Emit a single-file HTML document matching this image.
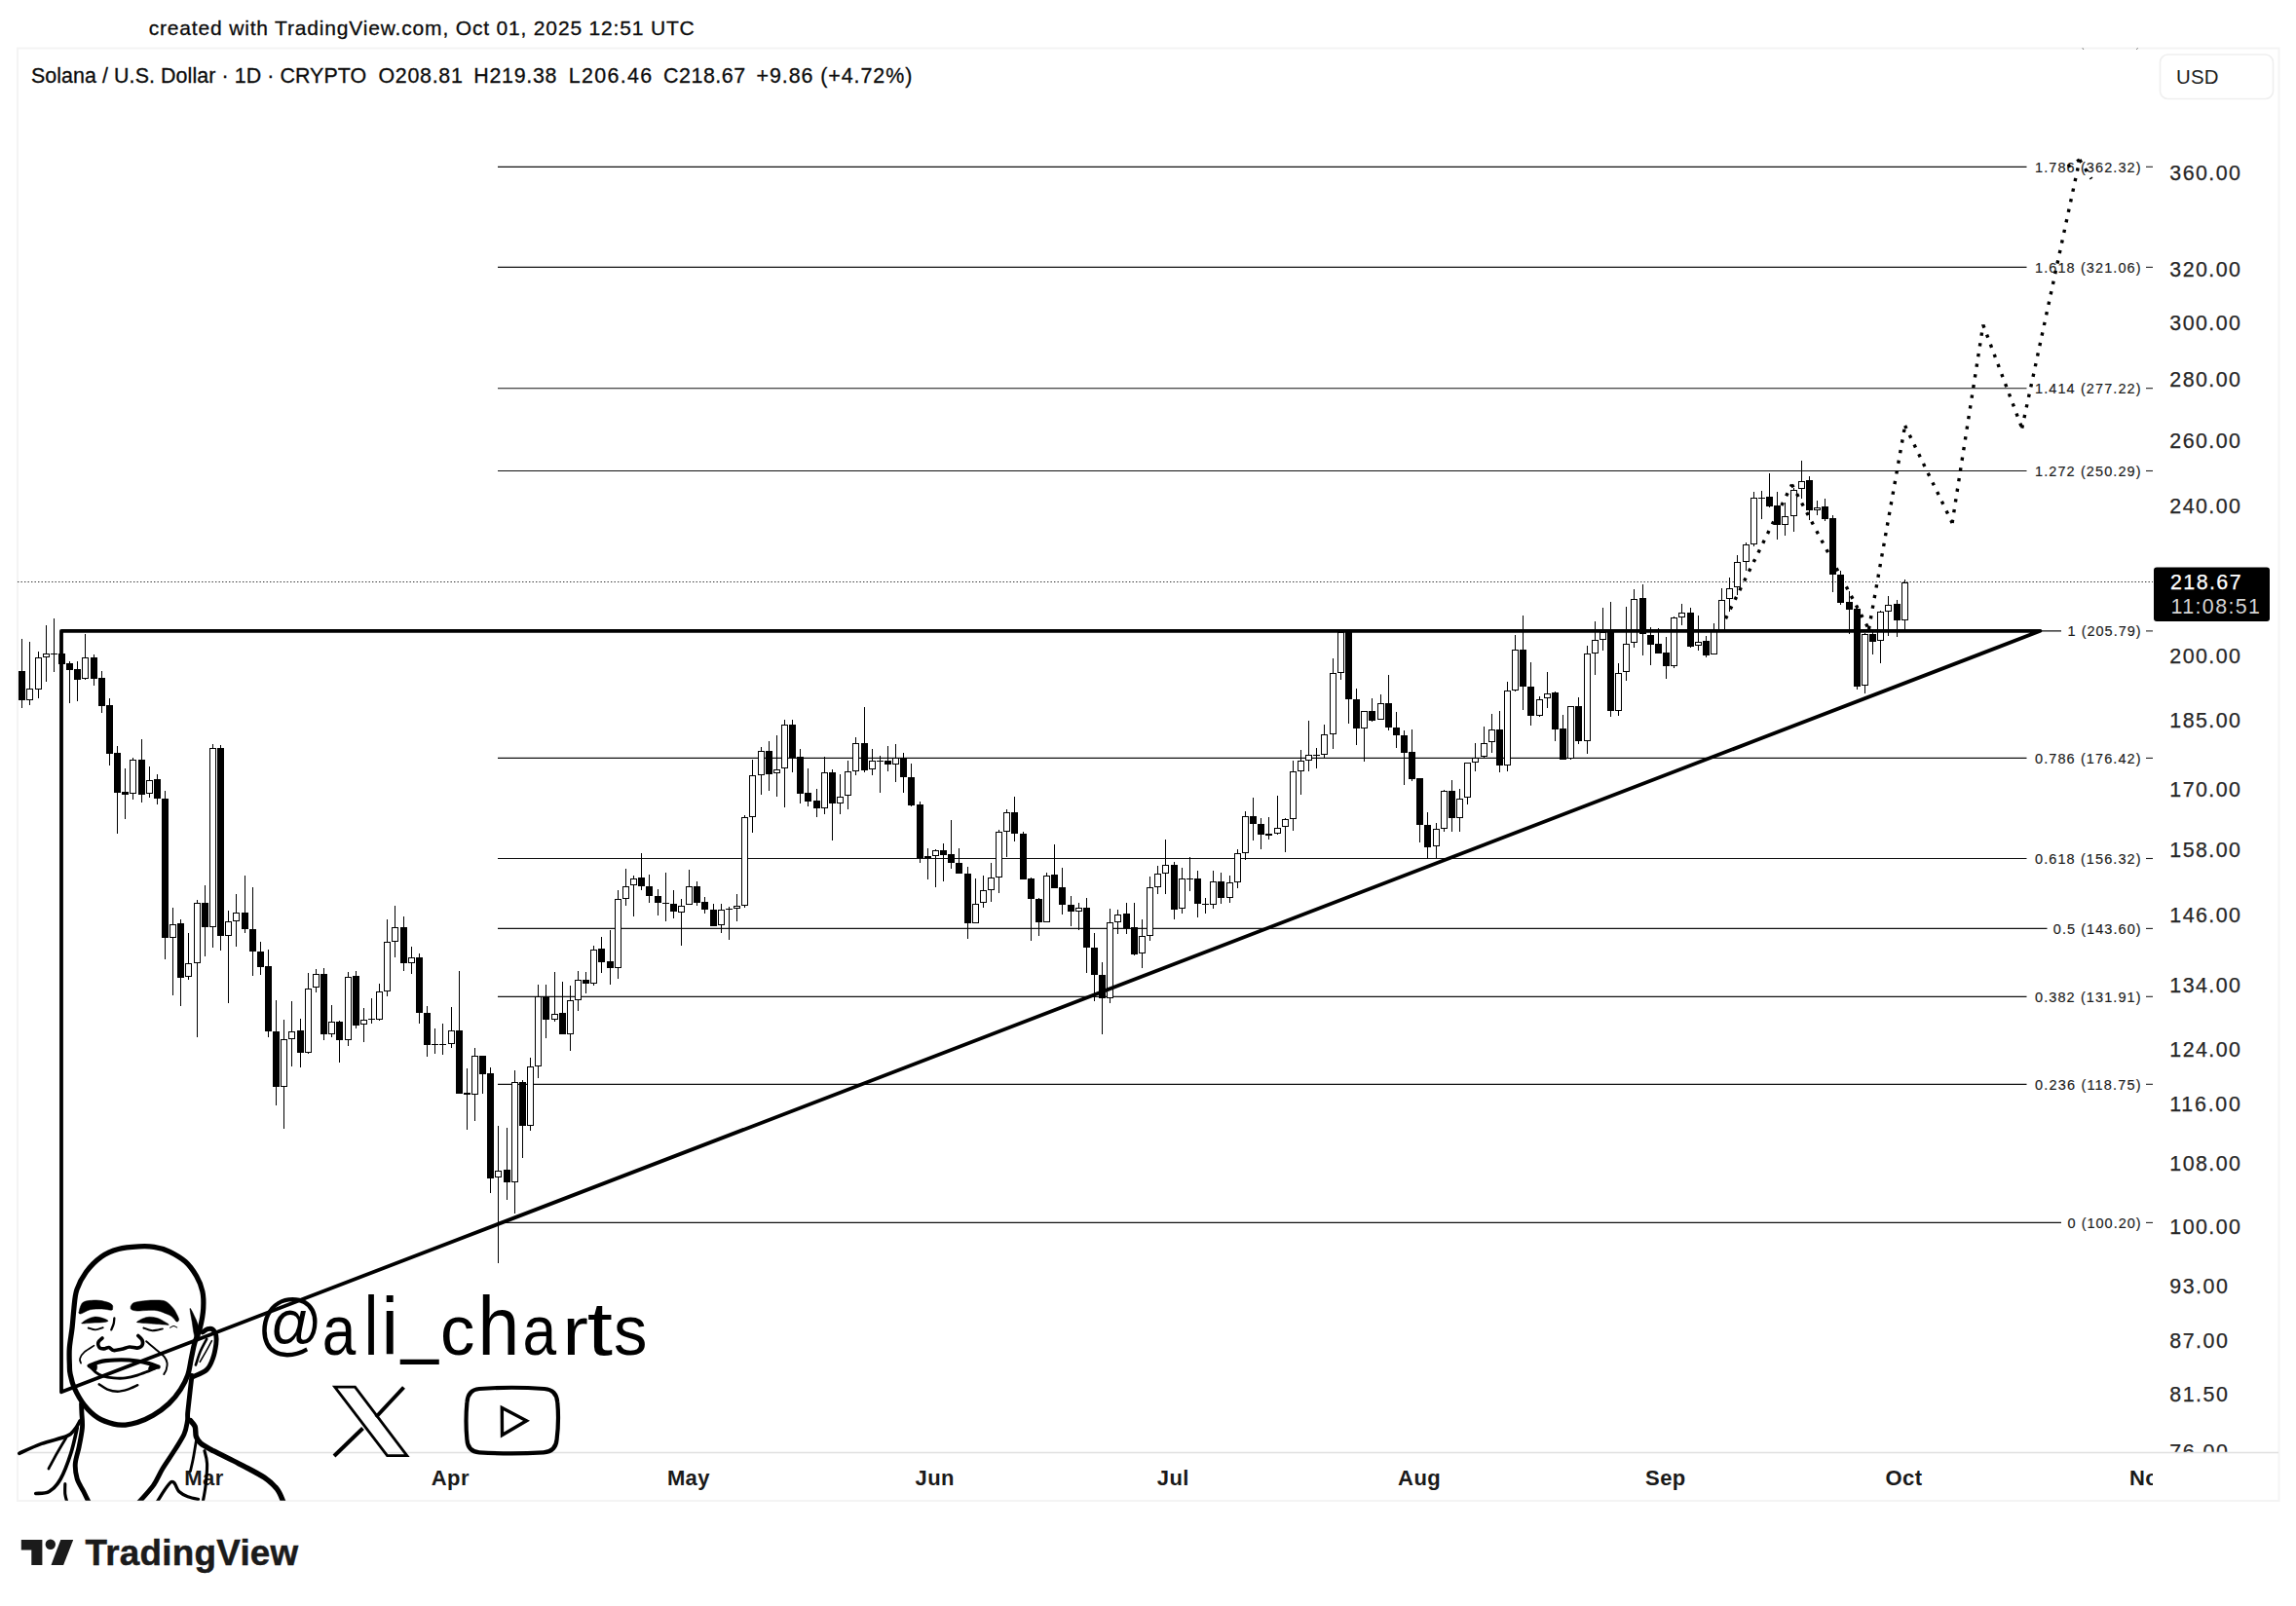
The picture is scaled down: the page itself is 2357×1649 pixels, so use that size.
<!DOCTYPE html><html><head><meta charset="utf-8"><title>SOLUSD chart</title><style>html,body{margin:0;padding:0;background:#fff}body{width:2357px;height:1649px;overflow:hidden;position:relative}svg{display:block;position:absolute;left:0;top:0}text{font-family:"Liberation Sans", Arial, sans-serif}</style></head><body>
<svg width="2357" height="1649" viewBox="0 0 2357 1649">
<rect width="2357" height="1649" fill="#fff"/>
<rect x="18" y="49.5" width="2321.5" height="1491.5" fill="none" stroke="#f4f4f4" stroke-width="2"/>
<line x1="18" y1="1491.5" x2="2339" y2="1491.5" stroke="#e0e0e0" stroke-width="1.5"/>
<text x="152.7" y="35.5" font-size="21" textLength="560" lengthAdjust="spacing" fill="#0c0c0c" stroke="#0c0c0c" stroke-width="0.3">created with TradingView.com, Oct 01, 2025 12:51 UTC</text>
<g font-size="21.4" fill="#0c0c0c" stroke="#0c0c0c" stroke-width="0.3">
<text x="31.9" y="85" textLength="344.3" lengthAdjust="spacing">Solana / U.S. Dollar · 1D · CRYPTO</text>
<text x="388.5" y="85" textLength="86.3" lengthAdjust="spacing">O208.81</text>
<text x="486.2" y="85" textLength="85.3" lengthAdjust="spacing">H219.38</text>
<text x="583.8" y="85" textLength="85.3" lengthAdjust="spacing">L206.46</text>
<text x="681.0" y="85" textLength="84.2" lengthAdjust="spacing">C218.67</text>
<text x="776.5" y="85" textLength="159.8" lengthAdjust="spacing">+9.86 (+4.72%)</text>
</g>
<path d="M2137.9 49.3l0.9 1.5M2194.5 49.3l-1.1 1.5" stroke="#666" stroke-width="1" fill="none"/>
<rect x="2217.5" y="56" width="116" height="45.5" rx="8" fill="#fff" stroke="#efefef" stroke-width="1.6"/>
<text x="2234" y="85.8" font-size="20.4" letter-spacing="0.2" fill="#1c1c1c">USD</text>
<g id="fibs" font-size="14.5" fill="#1a1a1a" stroke="#1a1a1a" stroke-width="0.15">
<line x1="511" y1="171.3" x2="2080.5" y2="171.3" stroke="#111" stroke-width="1.15"/>
<text x="2089.0" y="176.6" textLength="108.6" lengthAdjust="spacing">1.786 (362.32)</text>
<line x1="2203" y1="171.3" x2="2210" y2="171.3" stroke="#222" stroke-width="1.1"/>
<line x1="511" y1="274.4" x2="2080.5" y2="274.4" stroke="#111" stroke-width="1.15"/>
<text x="2089.0" y="279.7" textLength="108.6" lengthAdjust="spacing">1.618 (321.06)</text>
<line x1="2203" y1="274.4" x2="2210" y2="274.4" stroke="#222" stroke-width="1.1"/>
<line x1="511" y1="398.7" x2="2080.5" y2="398.7" stroke="#111" stroke-width="1.15"/>
<text x="2089.0" y="404.0" textLength="108.6" lengthAdjust="spacing">1.414 (277.22)</text>
<line x1="2203" y1="398.7" x2="2210" y2="398.7" stroke="#222" stroke-width="1.1"/>
<line x1="511" y1="483.5" x2="2080.5" y2="483.5" stroke="#111" stroke-width="1.15"/>
<text x="2089.0" y="488.8" textLength="108.6" lengthAdjust="spacing">1.272 (250.29)</text>
<line x1="2203" y1="483.5" x2="2210" y2="483.5" stroke="#222" stroke-width="1.1"/>
<line x1="511" y1="647.9" x2="2116" y2="647.9" stroke="#111" stroke-width="1.15"/>
<text x="2122.6" y="653.2" textLength="75" lengthAdjust="spacing">1 (205.79)</text>
<line x1="2203" y1="647.9" x2="2210" y2="647.9" stroke="#222" stroke-width="1.1"/>
<line x1="511" y1="778.4" x2="2080.5" y2="778.4" stroke="#111" stroke-width="1.15"/>
<text x="2089.0" y="783.7" textLength="108.6" lengthAdjust="spacing">0.786 (176.42)</text>
<line x1="2203" y1="778.4" x2="2210" y2="778.4" stroke="#222" stroke-width="1.1"/>
<line x1="511" y1="881.5" x2="2080.5" y2="881.5" stroke="#111" stroke-width="1.15"/>
<text x="2089.0" y="886.8" textLength="108.6" lengthAdjust="spacing">0.618 (156.32)</text>
<line x1="2203" y1="881.5" x2="2210" y2="881.5" stroke="#222" stroke-width="1.1"/>
<line x1="511" y1="953.4" x2="2101.5" y2="953.4" stroke="#111" stroke-width="1.15"/>
<text x="2107.8" y="958.7" textLength="89.8" lengthAdjust="spacing">0.5 (143.60)</text>
<line x1="2203" y1="953.4" x2="2210" y2="953.4" stroke="#222" stroke-width="1.1"/>
<line x1="511" y1="1023.3" x2="2080.5" y2="1023.3" stroke="#111" stroke-width="1.15"/>
<text x="2089.0" y="1028.6" textLength="108.6" lengthAdjust="spacing">0.382 (131.91)</text>
<line x1="2203" y1="1023.3" x2="2210" y2="1023.3" stroke="#222" stroke-width="1.1"/>
<line x1="511" y1="1113.3" x2="2080.5" y2="1113.3" stroke="#111" stroke-width="1.15"/>
<text x="2089.0" y="1118.6" textLength="108.6" lengthAdjust="spacing">0.236 (118.75)</text>
<line x1="2203" y1="1113.3" x2="2210" y2="1113.3" stroke="#222" stroke-width="1.1"/>
<line x1="511" y1="1255.4" x2="2116" y2="1255.4" stroke="#111" stroke-width="1.15"/>
<text x="2122.6" y="1260.7" textLength="75" lengthAdjust="spacing">0 (100.20)</text>
<line x1="2203" y1="1255.4" x2="2210" y2="1255.4" stroke="#222" stroke-width="1.1"/>
</g>
<line x1="18" y1="597.5" x2="2210" y2="597.5" stroke="#333" stroke-width="1.1" stroke-dasharray="1.4 2.1"/>
<g id="candles" shape-rendering="crispEdges">
<rect x="22" y="656" width="1" height="71" fill="#000"/>
<rect x="19" y="689" width="7" height="30" fill="#000"/>
<rect x="30" y="659" width="1" height="65" fill="#000"/>
<rect x="27.5" y="707.5" width="6" height="11" fill="#fff" stroke="#000" stroke-width="1"/>
<rect x="39" y="669" width="1" height="48" fill="#000"/>
<rect x="36.5" y="675.5" width="6" height="32" fill="#fff" stroke="#000" stroke-width="1"/>
<rect x="47" y="642" width="1" height="58" fill="#000"/>
<rect x="44.5" y="671.5" width="6" height="3" fill="#fff" stroke="#000" stroke-width="1"/>
<rect x="55" y="635" width="1" height="55" fill="#000"/>
<rect x="52" y="671" width="7" height="1" fill="#000"/>
<rect x="63" y="666" width="1" height="21" fill="#000"/>
<rect x="60" y="671" width="7" height="11" fill="#000"/>
<rect x="71" y="679" width="1" height="43" fill="#000"/>
<rect x="68" y="681" width="7" height="7" fill="#000"/>
<rect x="79" y="679" width="1" height="41" fill="#000"/>
<rect x="76" y="687" width="7" height="11" fill="#000"/>
<rect x="87" y="651" width="1" height="47" fill="#000"/>
<rect x="84.5" y="675.5" width="6" height="21" fill="#fff" stroke="#000" stroke-width="1"/>
<rect x="96" y="672" width="1" height="32" fill="#000"/>
<rect x="93" y="675" width="7" height="22" fill="#000"/>
<rect x="104" y="689" width="1" height="43" fill="#000"/>
<rect x="101" y="696" width="7" height="29" fill="#000"/>
<rect x="112" y="717" width="1" height="69" fill="#000"/>
<rect x="109" y="724" width="7" height="50" fill="#000"/>
<rect x="120" y="766" width="1" height="90" fill="#000"/>
<rect x="117" y="773" width="7" height="41" fill="#000"/>
<rect x="128" y="789" width="1" height="52" fill="#000"/>
<rect x="125" y="813" width="7" height="3" fill="#000"/>
<rect x="136" y="778" width="1" height="43" fill="#000"/>
<rect x="133.5" y="780.5" width="6" height="34" fill="#fff" stroke="#000" stroke-width="1"/>
<rect x="145" y="759" width="1" height="65" fill="#000"/>
<rect x="142" y="780" width="7" height="36" fill="#000"/>
<rect x="153" y="787" width="1" height="32" fill="#000"/>
<rect x="150.5" y="801.5" width="6" height="13" fill="#fff" stroke="#000" stroke-width="1"/>
<rect x="161" y="795" width="1" height="31" fill="#000"/>
<rect x="158" y="800" width="7" height="20" fill="#000"/>
<rect x="169" y="812" width="1" height="173" fill="#000"/>
<rect x="166" y="820" width="7" height="143" fill="#000"/>
<rect x="177" y="932" width="1" height="90" fill="#000"/>
<rect x="174.5" y="949.5" width="6" height="13" fill="#fff" stroke="#000" stroke-width="1"/>
<rect x="185" y="944" width="1" height="89" fill="#000"/>
<rect x="182" y="948" width="7" height="56" fill="#000"/>
<rect x="193" y="958" width="1" height="48" fill="#000"/>
<rect x="190.5" y="989.5" width="6" height="13" fill="#fff" stroke="#000" stroke-width="1"/>
<rect x="202" y="924" width="1" height="141" fill="#000"/>
<rect x="199.5" y="927.5" width="6" height="61" fill="#fff" stroke="#000" stroke-width="1"/>
<rect x="210" y="909" width="1" height="73" fill="#000"/>
<rect x="207" y="927" width="7" height="25" fill="#000"/>
<rect x="218" y="764" width="1" height="209" fill="#000"/>
<rect x="215.5" y="768.5" width="6" height="183" fill="#fff" stroke="#000" stroke-width="1"/>
<rect x="226" y="765" width="1" height="211" fill="#000"/>
<rect x="223" y="768" width="7" height="193" fill="#000"/>
<rect x="234" y="935" width="1" height="95" fill="#000"/>
<rect x="231.5" y="946.5" width="6" height="14" fill="#fff" stroke="#000" stroke-width="1"/>
<rect x="242" y="918" width="1" height="54" fill="#000"/>
<rect x="239.5" y="937.5" width="6" height="8" fill="#fff" stroke="#000" stroke-width="1"/>
<rect x="251" y="899" width="1" height="59" fill="#000"/>
<rect x="248" y="937" width="7" height="17" fill="#000"/>
<rect x="259" y="911" width="1" height="91" fill="#000"/>
<rect x="256" y="954" width="7" height="23" fill="#000"/>
<rect x="267" y="967" width="1" height="34" fill="#000"/>
<rect x="264" y="977" width="7" height="16" fill="#000"/>
<rect x="275" y="975" width="1" height="90" fill="#000"/>
<rect x="272" y="992" width="7" height="67" fill="#000"/>
<rect x="283" y="1027" width="1" height="108" fill="#000"/>
<rect x="280" y="1059" width="7" height="57" fill="#000"/>
<rect x="291" y="1047" width="1" height="112" fill="#000"/>
<rect x="288.5" y="1067.5" width="6" height="48" fill="#fff" stroke="#000" stroke-width="1"/>
<rect x="299" y="1028" width="1" height="67" fill="#000"/>
<rect x="296.5" y="1059.5" width="6" height="7" fill="#fff" stroke="#000" stroke-width="1"/>
<rect x="308" y="1046" width="1" height="50" fill="#000"/>
<rect x="305" y="1058" width="7" height="23" fill="#000"/>
<rect x="316" y="999" width="1" height="83" fill="#000"/>
<rect x="313.5" y="1015.5" width="6" height="65" fill="#fff" stroke="#000" stroke-width="1"/>
<rect x="324" y="995" width="1" height="24" fill="#000"/>
<rect x="321.5" y="1000.5" width="6" height="13" fill="#fff" stroke="#000" stroke-width="1"/>
<rect x="332" y="994" width="1" height="74" fill="#000"/>
<rect x="329" y="1000" width="7" height="62" fill="#000"/>
<rect x="340" y="1032" width="1" height="33" fill="#000"/>
<rect x="337.5" y="1049.5" width="6" height="12" fill="#fff" stroke="#000" stroke-width="1"/>
<rect x="348" y="1048" width="1" height="43" fill="#000"/>
<rect x="345" y="1049" width="7" height="19" fill="#000"/>
<rect x="357" y="998" width="1" height="76" fill="#000"/>
<rect x="354.5" y="1003.5" width="6" height="64" fill="#fff" stroke="#000" stroke-width="1"/>
<rect x="365" y="997" width="1" height="59" fill="#000"/>
<rect x="362" y="1002" width="7" height="51" fill="#000"/>
<rect x="373" y="1035" width="1" height="35" fill="#000"/>
<rect x="370.5" y="1047.5" width="6" height="4" fill="#fff" stroke="#000" stroke-width="1"/>
<rect x="381" y="1025" width="1" height="26" fill="#000"/>
<rect x="378" y="1046" width="7" height="1" fill="#000"/>
<rect x="389" y="1010" width="1" height="38" fill="#000"/>
<rect x="386.5" y="1018.5" width="6" height="28" fill="#fff" stroke="#000" stroke-width="1"/>
<rect x="397" y="944" width="1" height="79" fill="#000"/>
<rect x="394.5" y="967.5" width="6" height="50" fill="#fff" stroke="#000" stroke-width="1"/>
<rect x="405" y="930" width="1" height="53" fill="#000"/>
<rect x="402.5" y="952.5" width="6" height="14" fill="#fff" stroke="#000" stroke-width="1"/>
<rect x="414" y="941" width="1" height="56" fill="#000"/>
<rect x="411" y="952" width="7" height="37" fill="#000"/>
<rect x="422" y="972" width="1" height="28" fill="#000"/>
<rect x="419.5" y="983.5" width="6" height="5" fill="#fff" stroke="#000" stroke-width="1"/>
<rect x="430" y="979" width="1" height="72" fill="#000"/>
<rect x="427" y="983" width="7" height="57" fill="#000"/>
<rect x="438" y="1033" width="1" height="52" fill="#000"/>
<rect x="435" y="1040" width="7" height="33" fill="#000"/>
<rect x="446" y="1056" width="1" height="26" fill="#000"/>
<rect x="443" y="1072" width="7" height="1" fill="#000"/>
<rect x="454" y="1051" width="1" height="32" fill="#000"/>
<rect x="451" y="1072" width="7" height="1" fill="#000"/>
<rect x="463" y="1034" width="1" height="42" fill="#000"/>
<rect x="460.5" y="1058.5" width="6" height="13" fill="#fff" stroke="#000" stroke-width="1"/>
<rect x="471" y="997" width="1" height="126" fill="#000"/>
<rect x="468" y="1058" width="7" height="65" fill="#000"/>
<rect x="479" y="1097" width="1" height="63" fill="#000"/>
<rect x="476" y="1122" width="7" height="2" fill="#000"/>
<rect x="487" y="1076" width="1" height="75" fill="#000"/>
<rect x="484.5" y="1084.5" width="6" height="39" fill="#fff" stroke="#000" stroke-width="1"/>
<rect x="495" y="1084" width="1" height="39" fill="#000"/>
<rect x="492" y="1084" width="7" height="19" fill="#000"/>
<rect x="503" y="1096" width="1" height="129" fill="#000"/>
<rect x="500" y="1102" width="7" height="108" fill="#000"/>
<rect x="511" y="1156" width="1" height="141" fill="#000"/>
<rect x="508.5" y="1202.5" width="6" height="6" fill="#fff" stroke="#000" stroke-width="1"/>
<rect x="520" y="1158" width="1" height="74" fill="#000"/>
<rect x="517" y="1201" width="7" height="13" fill="#000"/>
<rect x="528" y="1099" width="1" height="147" fill="#000"/>
<rect x="525.5" y="1111.5" width="6" height="102" fill="#fff" stroke="#000" stroke-width="1"/>
<rect x="536" y="1109" width="1" height="80" fill="#000"/>
<rect x="533" y="1111" width="7" height="45" fill="#000"/>
<rect x="544" y="1086" width="1" height="75" fill="#000"/>
<rect x="541.5" y="1095.5" width="6" height="60" fill="#fff" stroke="#000" stroke-width="1"/>
<rect x="552" y="1011" width="1" height="96" fill="#000"/>
<rect x="549.5" y="1023.5" width="6" height="71" fill="#fff" stroke="#000" stroke-width="1"/>
<rect x="560" y="1011" width="1" height="55" fill="#000"/>
<rect x="557" y="1023" width="7" height="24" fill="#000"/>
<rect x="569" y="998" width="1" height="51" fill="#000"/>
<rect x="566.5" y="1041.5" width="6" height="5" fill="#fff" stroke="#000" stroke-width="1"/>
<rect x="577" y="1008" width="1" height="54" fill="#000"/>
<rect x="574" y="1040" width="7" height="22" fill="#000"/>
<rect x="585" y="1012" width="1" height="67" fill="#000"/>
<rect x="582.5" y="1027.5" width="6" height="34" fill="#fff" stroke="#000" stroke-width="1"/>
<rect x="593" y="997" width="1" height="41" fill="#000"/>
<rect x="590.5" y="1006.5" width="6" height="20" fill="#fff" stroke="#000" stroke-width="1"/>
<rect x="601" y="998" width="1" height="22" fill="#000"/>
<rect x="598" y="1006" width="7" height="4" fill="#000"/>
<rect x="609" y="971" width="1" height="41" fill="#000"/>
<rect x="606.5" y="975.5" width="6" height="34" fill="#fff" stroke="#000" stroke-width="1"/>
<rect x="617" y="962" width="1" height="37" fill="#000"/>
<rect x="614" y="974" width="7" height="14" fill="#000"/>
<rect x="626" y="955" width="1" height="56" fill="#000"/>
<rect x="623" y="987" width="7" height="7" fill="#000"/>
<rect x="634" y="914" width="1" height="91" fill="#000"/>
<rect x="631.5" y="923.5" width="6" height="70" fill="#fff" stroke="#000" stroke-width="1"/>
<rect x="642" y="892" width="1" height="38" fill="#000"/>
<rect x="639.5" y="910.5" width="6" height="12" fill="#fff" stroke="#000" stroke-width="1"/>
<rect x="650" y="899" width="1" height="42" fill="#000"/>
<rect x="647.5" y="902.5" width="6" height="6" fill="#fff" stroke="#000" stroke-width="1"/>
<rect x="658" y="876" width="1" height="38" fill="#000"/>
<rect x="655" y="901" width="7" height="9" fill="#000"/>
<rect x="666" y="898" width="1" height="29" fill="#000"/>
<rect x="663" y="910" width="7" height="10" fill="#000"/>
<rect x="675" y="913" width="1" height="27" fill="#000"/>
<rect x="672" y="920" width="7" height="7" fill="#000"/>
<rect x="683" y="896" width="1" height="50" fill="#000"/>
<rect x="680" y="927" width="7" height="1" fill="#000"/>
<rect x="691" y="914" width="1" height="29" fill="#000"/>
<rect x="688" y="928" width="7" height="8" fill="#000"/>
<rect x="699" y="923" width="1" height="48" fill="#000"/>
<rect x="696.5" y="930.5" width="6" height="6" fill="#fff" stroke="#000" stroke-width="1"/>
<rect x="707" y="893" width="1" height="36" fill="#000"/>
<rect x="704.5" y="910.5" width="6" height="18" fill="#fff" stroke="#000" stroke-width="1"/>
<rect x="715" y="905" width="1" height="25" fill="#000"/>
<rect x="712" y="910" width="7" height="17" fill="#000"/>
<rect x="723" y="921" width="1" height="17" fill="#000"/>
<rect x="720" y="926" width="7" height="8" fill="#000"/>
<rect x="732" y="928" width="1" height="23" fill="#000"/>
<rect x="729" y="934" width="7" height="17" fill="#000"/>
<rect x="740" y="928" width="1" height="30" fill="#000"/>
<rect x="737.5" y="934.5" width="6" height="15" fill="#fff" stroke="#000" stroke-width="1"/>
<rect x="748" y="931" width="1" height="34" fill="#000"/>
<rect x="745" y="933" width="7" height="1" fill="#000"/>
<rect x="756" y="918" width="1" height="28" fill="#000"/>
<rect x="753.5" y="930.5" width="6" height="2" fill="#fff" stroke="#000" stroke-width="1"/>
<rect x="764" y="837" width="1" height="95" fill="#000"/>
<rect x="761.5" y="839.5" width="6" height="90" fill="#fff" stroke="#000" stroke-width="1"/>
<rect x="772" y="780" width="1" height="75" fill="#000"/>
<rect x="769.5" y="796.5" width="6" height="42" fill="#fff" stroke="#000" stroke-width="1"/>
<rect x="781" y="767" width="1" height="49" fill="#000"/>
<rect x="778.5" y="771.5" width="6" height="24" fill="#fff" stroke="#000" stroke-width="1"/>
<rect x="789" y="761" width="1" height="51" fill="#000"/>
<rect x="786" y="771" width="7" height="24" fill="#000"/>
<rect x="797" y="755" width="1" height="63" fill="#000"/>
<rect x="794.5" y="790.5" width="6" height="3" fill="#fff" stroke="#000" stroke-width="1"/>
<rect x="805" y="739" width="1" height="90" fill="#000"/>
<rect x="802.5" y="744.5" width="6" height="44" fill="#fff" stroke="#000" stroke-width="1"/>
<rect x="813" y="739" width="1" height="54" fill="#000"/>
<rect x="810" y="744" width="7" height="34" fill="#000"/>
<rect x="821" y="769" width="1" height="56" fill="#000"/>
<rect x="818" y="777" width="7" height="38" fill="#000"/>
<rect x="829" y="789" width="1" height="39" fill="#000"/>
<rect x="826" y="814" width="7" height="9" fill="#000"/>
<rect x="838" y="810" width="1" height="29" fill="#000"/>
<rect x="835" y="822" width="7" height="8" fill="#000"/>
<rect x="846" y="777" width="1" height="59" fill="#000"/>
<rect x="843.5" y="793.5" width="6" height="36" fill="#fff" stroke="#000" stroke-width="1"/>
<rect x="854" y="790" width="1" height="73" fill="#000"/>
<rect x="851" y="793" width="7" height="32" fill="#000"/>
<rect x="862" y="795" width="1" height="41" fill="#000"/>
<rect x="859.5" y="818.5" width="6" height="6" fill="#fff" stroke="#000" stroke-width="1"/>
<rect x="870" y="781" width="1" height="50" fill="#000"/>
<rect x="867.5" y="792.5" width="6" height="24" fill="#fff" stroke="#000" stroke-width="1"/>
<rect x="878" y="757" width="1" height="39" fill="#000"/>
<rect x="875.5" y="763.5" width="6" height="28" fill="#fff" stroke="#000" stroke-width="1"/>
<rect x="887" y="726" width="1" height="67" fill="#000"/>
<rect x="884" y="763" width="7" height="28" fill="#000"/>
<rect x="895" y="769" width="1" height="27" fill="#000"/>
<rect x="892.5" y="781.5" width="6" height="8" fill="#fff" stroke="#000" stroke-width="1"/>
<rect x="903" y="776" width="1" height="38" fill="#000"/>
<rect x="900" y="781" width="7" height="1" fill="#000"/>
<rect x="911" y="766" width="1" height="26" fill="#000"/>
<rect x="908" y="781" width="7" height="4" fill="#000"/>
<rect x="919" y="764" width="1" height="39" fill="#000"/>
<rect x="916.5" y="778.5" width="6" height="6" fill="#fff" stroke="#000" stroke-width="1"/>
<rect x="927" y="773" width="1" height="41" fill="#000"/>
<rect x="924" y="778" width="7" height="20" fill="#000"/>
<rect x="935" y="784" width="1" height="44" fill="#000"/>
<rect x="932" y="798" width="7" height="29" fill="#000"/>
<rect x="944" y="823" width="1" height="63" fill="#000"/>
<rect x="941" y="826" width="7" height="55" fill="#000"/>
<rect x="952" y="871" width="1" height="32" fill="#000"/>
<rect x="949.5" y="879.5" width="6" height="1" fill="#fff" stroke="#000" stroke-width="1"/>
<rect x="960" y="872" width="1" height="39" fill="#000"/>
<rect x="957.5" y="873.5" width="6" height="5" fill="#fff" stroke="#000" stroke-width="1"/>
<rect x="968" y="866" width="1" height="39" fill="#000"/>
<rect x="965" y="873" width="7" height="5" fill="#000"/>
<rect x="976" y="842" width="1" height="50" fill="#000"/>
<rect x="973" y="877" width="7" height="9" fill="#000"/>
<rect x="984" y="871" width="1" height="26" fill="#000"/>
<rect x="981" y="886" width="7" height="11" fill="#000"/>
<rect x="993" y="890" width="1" height="74" fill="#000"/>
<rect x="990" y="897" width="7" height="51" fill="#000"/>
<rect x="1001" y="902" width="1" height="46" fill="#000"/>
<rect x="998.5" y="928.5" width="6" height="19" fill="#fff" stroke="#000" stroke-width="1"/>
<rect x="1009" y="899" width="1" height="33" fill="#000"/>
<rect x="1006.5" y="914.5" width="6" height="12" fill="#fff" stroke="#000" stroke-width="1"/>
<rect x="1017" y="886" width="1" height="40" fill="#000"/>
<rect x="1014.5" y="901.5" width="6" height="12" fill="#fff" stroke="#000" stroke-width="1"/>
<rect x="1025" y="852" width="1" height="65" fill="#000"/>
<rect x="1022.5" y="854.5" width="6" height="46" fill="#fff" stroke="#000" stroke-width="1"/>
<rect x="1033" y="831" width="1" height="49" fill="#000"/>
<rect x="1030.5" y="834.5" width="6" height="19" fill="#fff" stroke="#000" stroke-width="1"/>
<rect x="1041" y="818" width="1" height="46" fill="#000"/>
<rect x="1038" y="834" width="7" height="22" fill="#000"/>
<rect x="1050" y="854" width="1" height="49" fill="#000"/>
<rect x="1047" y="856" width="7" height="47" fill="#000"/>
<rect x="1058" y="901" width="1" height="65" fill="#000"/>
<rect x="1055" y="902" width="7" height="21" fill="#000"/>
<rect x="1066" y="922" width="1" height="39" fill="#000"/>
<rect x="1063" y="923" width="7" height="24" fill="#000"/>
<rect x="1074" y="896" width="1" height="51" fill="#000"/>
<rect x="1071.5" y="899.5" width="6" height="47" fill="#fff" stroke="#000" stroke-width="1"/>
<rect x="1082" y="867" width="1" height="45" fill="#000"/>
<rect x="1079" y="898" width="7" height="14" fill="#000"/>
<rect x="1090" y="891" width="1" height="48" fill="#000"/>
<rect x="1087" y="911" width="7" height="18" fill="#000"/>
<rect x="1099" y="920" width="1" height="31" fill="#000"/>
<rect x="1096" y="929" width="7" height="7" fill="#000"/>
<rect x="1107" y="927" width="1" height="28" fill="#000"/>
<rect x="1104.5" y="932.5" width="6" height="3" fill="#fff" stroke="#000" stroke-width="1"/>
<rect x="1115" y="922" width="1" height="77" fill="#000"/>
<rect x="1112" y="932" width="7" height="41" fill="#000"/>
<rect x="1123" y="958" width="1" height="70" fill="#000"/>
<rect x="1120" y="973" width="7" height="28" fill="#000"/>
<rect x="1131" y="988" width="1" height="74" fill="#000"/>
<rect x="1128" y="1001" width="7" height="24" fill="#000"/>
<rect x="1139" y="933" width="1" height="97" fill="#000"/>
<rect x="1136.5" y="947.5" width="6" height="77" fill="#fff" stroke="#000" stroke-width="1"/>
<rect x="1147" y="934" width="1" height="25" fill="#000"/>
<rect x="1144.5" y="939.5" width="6" height="7" fill="#fff" stroke="#000" stroke-width="1"/>
<rect x="1156" y="927" width="1" height="32" fill="#000"/>
<rect x="1153" y="938" width="7" height="15" fill="#000"/>
<rect x="1164" y="927" width="1" height="54" fill="#000"/>
<rect x="1161" y="952" width="7" height="28" fill="#000"/>
<rect x="1172" y="944" width="1" height="50" fill="#000"/>
<rect x="1169.5" y="961.5" width="6" height="17" fill="#fff" stroke="#000" stroke-width="1"/>
<rect x="1180" y="900" width="1" height="66" fill="#000"/>
<rect x="1177.5" y="911.5" width="6" height="49" fill="#fff" stroke="#000" stroke-width="1"/>
<rect x="1188" y="889" width="1" height="29" fill="#000"/>
<rect x="1185.5" y="897.5" width="6" height="13" fill="#fff" stroke="#000" stroke-width="1"/>
<rect x="1196" y="862" width="1" height="56" fill="#000"/>
<rect x="1193.5" y="888.5" width="6" height="8" fill="#fff" stroke="#000" stroke-width="1"/>
<rect x="1205" y="885" width="1" height="59" fill="#000"/>
<rect x="1202" y="888" width="7" height="46" fill="#000"/>
<rect x="1213" y="891" width="1" height="47" fill="#000"/>
<rect x="1210.5" y="902.5" width="6" height="30" fill="#fff" stroke="#000" stroke-width="1"/>
<rect x="1221" y="880" width="1" height="35" fill="#000"/>
<rect x="1218" y="902" width="7" height="1" fill="#000"/>
<rect x="1229" y="894" width="1" height="48" fill="#000"/>
<rect x="1226" y="902" width="7" height="26" fill="#000"/>
<rect x="1237" y="922" width="1" height="16" fill="#000"/>
<rect x="1234" y="928" width="7" height="1" fill="#000"/>
<rect x="1245" y="894" width="1" height="39" fill="#000"/>
<rect x="1242.5" y="905.5" width="6" height="23" fill="#fff" stroke="#000" stroke-width="1"/>
<rect x="1253" y="896" width="1" height="32" fill="#000"/>
<rect x="1250" y="905" width="7" height="17" fill="#000"/>
<rect x="1262" y="899" width="1" height="28" fill="#000"/>
<rect x="1259.5" y="906.5" width="6" height="15" fill="#fff" stroke="#000" stroke-width="1"/>
<rect x="1270" y="872" width="1" height="40" fill="#000"/>
<rect x="1267.5" y="876.5" width="6" height="29" fill="#fff" stroke="#000" stroke-width="1"/>
<rect x="1278" y="833" width="1" height="50" fill="#000"/>
<rect x="1275.5" y="838.5" width="6" height="37" fill="#fff" stroke="#000" stroke-width="1"/>
<rect x="1286" y="819" width="1" height="44" fill="#000"/>
<rect x="1283" y="838" width="7" height="8" fill="#000"/>
<rect x="1294" y="840" width="1" height="32" fill="#000"/>
<rect x="1291" y="846" width="7" height="11" fill="#000"/>
<rect x="1302" y="839" width="1" height="23" fill="#000"/>
<rect x="1299.5" y="856.5" width="6" height="0.5" fill="#fff" stroke="#000" stroke-width="1"/>
<rect x="1311" y="817" width="1" height="40" fill="#000"/>
<rect x="1308.5" y="850.5" width="6" height="5" fill="#fff" stroke="#000" stroke-width="1"/>
<rect x="1319" y="840" width="1" height="35" fill="#000"/>
<rect x="1316.5" y="841.5" width="6" height="7" fill="#fff" stroke="#000" stroke-width="1"/>
<rect x="1327" y="781" width="1" height="72" fill="#000"/>
<rect x="1324.5" y="792.5" width="6" height="48" fill="#fff" stroke="#000" stroke-width="1"/>
<rect x="1335" y="770" width="1" height="46" fill="#000"/>
<rect x="1332.5" y="781.5" width="6" height="10" fill="#fff" stroke="#000" stroke-width="1"/>
<rect x="1343" y="740" width="1" height="52" fill="#000"/>
<rect x="1340.5" y="775.5" width="6" height="5" fill="#fff" stroke="#000" stroke-width="1"/>
<rect x="1351" y="768" width="1" height="21" fill="#000"/>
<rect x="1348" y="775" width="7" height="1" fill="#000"/>
<rect x="1359" y="744" width="1" height="34" fill="#000"/>
<rect x="1356.5" y="754.5" width="6" height="20" fill="#fff" stroke="#000" stroke-width="1"/>
<rect x="1368" y="676" width="1" height="93" fill="#000"/>
<rect x="1365.5" y="691.5" width="6" height="62" fill="#fff" stroke="#000" stroke-width="1"/>
<rect x="1376" y="648" width="1" height="50" fill="#000"/>
<rect x="1373.5" y="649.5" width="6" height="41" fill="#fff" stroke="#000" stroke-width="1"/>
<rect x="1384" y="648" width="1" height="95" fill="#000"/>
<rect x="1381" y="649" width="7" height="69" fill="#000"/>
<rect x="1392" y="707" width="1" height="58" fill="#000"/>
<rect x="1389" y="718" width="7" height="30" fill="#000"/>
<rect x="1400" y="730" width="1" height="52" fill="#000"/>
<rect x="1397.5" y="730.5" width="6" height="17" fill="#fff" stroke="#000" stroke-width="1"/>
<rect x="1408" y="717" width="1" height="24" fill="#000"/>
<rect x="1405" y="730" width="7" height="10" fill="#000"/>
<rect x="1417" y="713" width="1" height="26" fill="#000"/>
<rect x="1414.5" y="722.5" width="6" height="16" fill="#fff" stroke="#000" stroke-width="1"/>
<rect x="1425" y="693" width="1" height="57" fill="#000"/>
<rect x="1422" y="722" width="7" height="25" fill="#000"/>
<rect x="1433" y="731" width="1" height="37" fill="#000"/>
<rect x="1430" y="747" width="7" height="8" fill="#000"/>
<rect x="1441" y="750" width="1" height="56" fill="#000"/>
<rect x="1438" y="755" width="7" height="18" fill="#000"/>
<rect x="1449" y="749" width="1" height="53" fill="#000"/>
<rect x="1446" y="772" width="7" height="28" fill="#000"/>
<rect x="1457" y="799" width="1" height="66" fill="#000"/>
<rect x="1454" y="799" width="7" height="48" fill="#000"/>
<rect x="1465" y="834" width="1" height="48" fill="#000"/>
<rect x="1462" y="847" width="7" height="23" fill="#000"/>
<rect x="1474" y="845" width="1" height="36" fill="#000"/>
<rect x="1471.5" y="851.5" width="6" height="17" fill="#fff" stroke="#000" stroke-width="1"/>
<rect x="1482" y="811" width="1" height="43" fill="#000"/>
<rect x="1479.5" y="812.5" width="6" height="38" fill="#fff" stroke="#000" stroke-width="1"/>
<rect x="1490" y="801" width="1" height="53" fill="#000"/>
<rect x="1487" y="812" width="7" height="28" fill="#000"/>
<rect x="1498" y="810" width="1" height="44" fill="#000"/>
<rect x="1495.5" y="820.5" width="6" height="19" fill="#fff" stroke="#000" stroke-width="1"/>
<rect x="1506" y="783" width="1" height="43" fill="#000"/>
<rect x="1503.5" y="783.5" width="6" height="35" fill="#fff" stroke="#000" stroke-width="1"/>
<rect x="1514" y="763" width="1" height="29" fill="#000"/>
<rect x="1511.5" y="778.5" width="6" height="4" fill="#fff" stroke="#000" stroke-width="1"/>
<rect x="1523" y="746" width="1" height="32" fill="#000"/>
<rect x="1520.5" y="763.5" width="6" height="13" fill="#fff" stroke="#000" stroke-width="1"/>
<rect x="1531" y="733" width="1" height="40" fill="#000"/>
<rect x="1528.5" y="749.5" width="6" height="12" fill="#fff" stroke="#000" stroke-width="1"/>
<rect x="1539" y="730" width="1" height="63" fill="#000"/>
<rect x="1536" y="749" width="7" height="37" fill="#000"/>
<rect x="1547" y="700" width="1" height="92" fill="#000"/>
<rect x="1544.5" y="709.5" width="6" height="76" fill="#fff" stroke="#000" stroke-width="1"/>
<rect x="1555" y="652" width="1" height="58" fill="#000"/>
<rect x="1552.5" y="667.5" width="6" height="41" fill="#fff" stroke="#000" stroke-width="1"/>
<rect x="1563" y="632" width="1" height="97" fill="#000"/>
<rect x="1560" y="667" width="7" height="38" fill="#000"/>
<rect x="1571" y="680" width="1" height="65" fill="#000"/>
<rect x="1568" y="705" width="7" height="30" fill="#000"/>
<rect x="1580" y="715" width="1" height="21" fill="#000"/>
<rect x="1577.5" y="718.5" width="6" height="16" fill="#fff" stroke="#000" stroke-width="1"/>
<rect x="1588" y="690" width="1" height="37" fill="#000"/>
<rect x="1585.5" y="712.5" width="6" height="4" fill="#fff" stroke="#000" stroke-width="1"/>
<rect x="1596" y="710" width="1" height="51" fill="#000"/>
<rect x="1593" y="711" width="7" height="38" fill="#000"/>
<rect x="1604" y="734" width="1" height="46" fill="#000"/>
<rect x="1601" y="748" width="7" height="32" fill="#000"/>
<rect x="1612" y="725" width="1" height="55" fill="#000"/>
<rect x="1609.5" y="725.5" width="6" height="53" fill="#fff" stroke="#000" stroke-width="1"/>
<rect x="1620" y="716" width="1" height="48" fill="#000"/>
<rect x="1617" y="725" width="7" height="36" fill="#000"/>
<rect x="1629" y="663" width="1" height="111" fill="#000"/>
<rect x="1626.5" y="671.5" width="6" height="89" fill="#fff" stroke="#000" stroke-width="1"/>
<rect x="1637" y="638" width="1" height="55" fill="#000"/>
<rect x="1634.5" y="657.5" width="6" height="13" fill="#fff" stroke="#000" stroke-width="1"/>
<rect x="1645" y="624" width="1" height="44" fill="#000"/>
<rect x="1642.5" y="649.5" width="6" height="7" fill="#fff" stroke="#000" stroke-width="1"/>
<rect x="1653" y="618" width="1" height="118" fill="#000"/>
<rect x="1650" y="649" width="7" height="81" fill="#000"/>
<rect x="1661" y="681" width="1" height="54" fill="#000"/>
<rect x="1658.5" y="691.5" width="6" height="38" fill="#fff" stroke="#000" stroke-width="1"/>
<rect x="1669" y="623" width="1" height="76" fill="#000"/>
<rect x="1666.5" y="661.5" width="6" height="28" fill="#fff" stroke="#000" stroke-width="1"/>
<rect x="1677" y="605" width="1" height="60" fill="#000"/>
<rect x="1674.5" y="615.5" width="6" height="44" fill="#fff" stroke="#000" stroke-width="1"/>
<rect x="1686" y="600" width="1" height="73" fill="#000"/>
<rect x="1683" y="614" width="7" height="37" fill="#000"/>
<rect x="1694" y="644" width="1" height="39" fill="#000"/>
<rect x="1691" y="652" width="7" height="10" fill="#000"/>
<rect x="1702" y="645" width="1" height="26" fill="#000"/>
<rect x="1699" y="661" width="7" height="10" fill="#000"/>
<rect x="1710" y="654" width="1" height="43" fill="#000"/>
<rect x="1707" y="670" width="7" height="14" fill="#000"/>
<rect x="1718" y="633" width="1" height="53" fill="#000"/>
<rect x="1715.5" y="634.5" width="6" height="49" fill="#fff" stroke="#000" stroke-width="1"/>
<rect x="1726" y="620" width="1" height="22" fill="#000"/>
<rect x="1723.5" y="629.5" width="6" height="4" fill="#fff" stroke="#000" stroke-width="1"/>
<rect x="1735" y="624" width="1" height="41" fill="#000"/>
<rect x="1732" y="629" width="7" height="35" fill="#000"/>
<rect x="1743" y="632" width="1" height="36" fill="#000"/>
<rect x="1740.5" y="659.5" width="6" height="3" fill="#fff" stroke="#000" stroke-width="1"/>
<rect x="1751" y="653" width="1" height="22" fill="#000"/>
<rect x="1748" y="658" width="7" height="15" fill="#000"/>
<rect x="1759" y="640" width="1" height="32" fill="#000"/>
<rect x="1756.5" y="647.5" width="6" height="24" fill="#fff" stroke="#000" stroke-width="1"/>
<rect x="1767" y="604" width="1" height="43" fill="#000"/>
<rect x="1764.5" y="616.5" width="6" height="30" fill="#fff" stroke="#000" stroke-width="1"/>
<rect x="1775" y="593" width="1" height="35" fill="#000"/>
<rect x="1772.5" y="604.5" width="6" height="10" fill="#fff" stroke="#000" stroke-width="1"/>
<rect x="1783" y="570" width="1" height="41" fill="#000"/>
<rect x="1780.5" y="577.5" width="6" height="25" fill="#fff" stroke="#000" stroke-width="1"/>
<rect x="1792" y="557" width="1" height="29" fill="#000"/>
<rect x="1789.5" y="559.5" width="6" height="17" fill="#fff" stroke="#000" stroke-width="1"/>
<rect x="1800" y="505" width="1" height="56" fill="#000"/>
<rect x="1797.5" y="511.5" width="6" height="47" fill="#fff" stroke="#000" stroke-width="1"/>
<rect x="1808" y="504" width="1" height="29" fill="#000"/>
<rect x="1805" y="511" width="7" height="1" fill="#000"/>
<rect x="1816" y="486" width="1" height="35" fill="#000"/>
<rect x="1813" y="510" width="7" height="10" fill="#000"/>
<rect x="1824" y="505" width="1" height="49" fill="#000"/>
<rect x="1821" y="519" width="7" height="20" fill="#000"/>
<rect x="1832" y="516" width="1" height="34" fill="#000"/>
<rect x="1829.5" y="530.5" width="6" height="8" fill="#fff" stroke="#000" stroke-width="1"/>
<rect x="1841" y="501" width="1" height="45" fill="#000"/>
<rect x="1838.5" y="503.5" width="6" height="26" fill="#fff" stroke="#000" stroke-width="1"/>
<rect x="1849" y="473" width="1" height="39" fill="#000"/>
<rect x="1846.5" y="494.5" width="6" height="7" fill="#fff" stroke="#000" stroke-width="1"/>
<rect x="1857" y="489" width="1" height="45" fill="#000"/>
<rect x="1854" y="493" width="7" height="31" fill="#000"/>
<rect x="1865" y="514" width="1" height="15" fill="#000"/>
<rect x="1862.5" y="521.5" width="6" height="2" fill="#fff" stroke="#000" stroke-width="1"/>
<rect x="1873" y="512" width="1" height="23" fill="#000"/>
<rect x="1870" y="520" width="7" height="13" fill="#000"/>
<rect x="1881" y="529" width="1" height="79" fill="#000"/>
<rect x="1878" y="532" width="7" height="58" fill="#000"/>
<rect x="1889" y="586" width="1" height="35" fill="#000"/>
<rect x="1886" y="590" width="7" height="29" fill="#000"/>
<rect x="1898" y="607" width="1" height="44" fill="#000"/>
<rect x="1895" y="618" width="7" height="8" fill="#000"/>
<rect x="1906" y="622" width="1" height="86" fill="#000"/>
<rect x="1903" y="625" width="7" height="80" fill="#000"/>
<rect x="1914" y="650" width="1" height="62" fill="#000"/>
<rect x="1911.5" y="651.5" width="6" height="52" fill="#fff" stroke="#000" stroke-width="1"/>
<rect x="1922" y="649" width="1" height="23" fill="#000"/>
<rect x="1919" y="651" width="7" height="8" fill="#000"/>
<rect x="1930" y="627" width="1" height="54" fill="#000"/>
<rect x="1927.5" y="628.5" width="6" height="29" fill="#fff" stroke="#000" stroke-width="1"/>
<rect x="1938" y="612" width="1" height="41" fill="#000"/>
<rect x="1935.5" y="621.5" width="6" height="6" fill="#fff" stroke="#000" stroke-width="1"/>
<rect x="1947" y="616" width="1" height="38" fill="#000"/>
<rect x="1944" y="620" width="7" height="17" fill="#000"/>
<rect x="1955" y="595" width="1" height="51" fill="#000"/>
<rect x="1952.5" y="598.5" width="6" height="38" fill="#fff" stroke="#000" stroke-width="1"/>
</g>
<path d="M63 1429.3 L63 647.85 L2094.5 647.85 Z" fill="none" stroke="#000" stroke-width="3.8" stroke-linejoin="round"/>
<g fill="none" stroke="#000" stroke-width="3.4" stroke-dasharray="3.3 7.5">
<line x1="1771.5" y1="635.2" x2="1839.5" y2="497.5"/>
<line x1="1839.5" y1="497.5" x2="1918.5" y2="646"/>
<line x1="1918.5" y1="646" x2="1955.6" y2="437.1"/>
<line x1="1955.6" y1="437.1" x2="2004.1" y2="536.9"/>
<line x1="2004.1" y1="536.9" x2="2035.8" y2="333.5"/>
<line x1="2035.8" y1="333.5" x2="2075.7" y2="439.6"/>
<line x1="2075.7" y1="439.6" x2="2134.9" y2="164"/>
<path d="M2134.9 164 L2117.1 174.3 M2134.9 164 L2147 183.6"/>
</g>
<clipPath id="axclip"><rect x="2211" y="50" width="128" height="1440.8"/></clipPath>
<g id="plabels" font-size="21.4" fill="#262626" stroke="#262626" stroke-width="0.25" clip-path="url(#axclip)">
<text x="2227.3" y="185.0" textLength="72.6" lengthAdjust="spacing">360.00</text>
<text x="2227.3" y="284.4" textLength="72.6" lengthAdjust="spacing">320.00</text>
<text x="2227.3" y="338.9" textLength="72.6" lengthAdjust="spacing">300.00</text>
<text x="2227.3" y="397.1" textLength="72.6" lengthAdjust="spacing">280.00</text>
<text x="2227.3" y="459.7" textLength="72.6" lengthAdjust="spacing">260.00</text>
<text x="2227.3" y="527.3" textLength="72.6" lengthAdjust="spacing">240.00</text>
<text x="2227.3" y="681.2" textLength="72.6" lengthAdjust="spacing">200.00</text>
<text x="2227.3" y="747.1" textLength="72.6" lengthAdjust="spacing">185.00</text>
<text x="2227.3" y="818.4" textLength="72.6" lengthAdjust="spacing">170.00</text>
<text x="2227.3" y="880.3" textLength="72.6" lengthAdjust="spacing">158.00</text>
<text x="2227.3" y="946.9" textLength="72.6" lengthAdjust="spacing">146.00</text>
<text x="2227.3" y="1019.4" textLength="72.6" lengthAdjust="spacing">134.00</text>
<text x="2227.3" y="1084.8" textLength="72.6" lengthAdjust="spacing">124.00</text>
<text x="2227.3" y="1141.1" textLength="72.6" lengthAdjust="spacing">116.00</text>
<text x="2227.3" y="1201.5" textLength="72.6" lengthAdjust="spacing">108.00</text>
<text x="2227.3" y="1266.5" textLength="72.6" lengthAdjust="spacing">100.00</text>
<text x="2227.3" y="1327.7" textLength="59.6" lengthAdjust="spacing">93.00</text>
<text x="2227.3" y="1384.0" textLength="59.6" lengthAdjust="spacing">87.00</text>
<text x="2227.3" y="1439.2" textLength="59.6" lengthAdjust="spacing">81.50</text>
<text x="2227.3" y="1498.2" textLength="59.6" lengthAdjust="spacing">76.00</text>
</g>
<rect x="2211" y="582.6" width="119" height="55.5" rx="3" fill="#000"/>
<text x="2228" y="605" font-size="21.4" textLength="72.6" lengthAdjust="spacing" fill="#fff" stroke="#fff" stroke-width="0.25">218.67</text>
<text x="2228.5" y="630.3" font-size="21.4" textLength="91.5" lengthAdjust="spacing" fill="#d4d4d4">11:08:51</text>
<clipPath id="tclip"><rect x="18" y="1492" width="2192" height="49"/></clipPath>
<g id="tlabels" font-size="22" font-weight="bold" letter-spacing="0.4" fill="#1a1a1a" text-anchor="middle" clip-path="url(#tclip)">
<text x="209.5" y="1525.1">Mar</text>
<text x="462.3" y="1525.1">Apr</text>
<text x="706.9" y="1525.1">May</text>
<text x="959.7" y="1525.1">Jun</text>
<text x="1204.3" y="1525.1">Jul</text>
<text x="1457.1" y="1525.1">Aug</text>
<text x="1709.9" y="1525.1">Sep</text>
<text x="1954.5" y="1525.1">Oct</text>
<text x="2207.3" y="1525.1">Nov</text>
</g>
<g id="tvlogo" fill="#1b1b1b"><path d="M21.8 1580.9H43.4V1607.1H32.3V1591.4H21.8Z"/><circle cx="51.8" cy="1585.7" r="5.2"/><path d="M62.3 1580.9H75.2L65.1 1607.1H52.5Z"/>
<text x="87.6" y="1607.1" font-size="36.8" font-weight="bold" textLength="218.6" lengthAdjust="spacing" stroke="#1b1b1b" stroke-width="0.5">TradingView</text></g>
<g id="wm" fill="#000" font-size="100">
<text transform="translate(263.90 1383.06) scale(0.6624 0.6953)">@</text>
<text transform="translate(330.82 1390.78) scale(0.6212 0.7182)">a</text>
<text transform="translate(373.81 1391.35) scale(0.6556 0.8486)">l</text>
<text transform="translate(391.49 1390.50) scale(0.7875 0.8370)">i</text>
<text transform="translate(411.68 1384.33) scale(0.6881 0.8333)">_</text>
<text transform="translate(451.97 1390.78) scale(0.7070 0.7182)">c</text>
<text transform="translate(490.62 1391.35) scale(0.7690 0.8486)">h</text>
<text transform="translate(536.51 1390.78) scale(0.6231 0.7182)">a</text>
<text transform="translate(577.46 1390.50) scale(0.7920 0.7130)">r</text>
<text transform="translate(602.81 1390.72) scale(0.9440 0.7769)">t</text>
<text transform="translate(629.93 1390.78) scale(0.6884 0.7182)">s</text>
</g>
<g id="icons" fill="none" stroke="#000" stroke-linejoin="miter">
<path d="M343.7 1424.2 H364.5 L417.8 1494.6 H397.5 Z" stroke-width="2.8"/>
<path d="M414.5 1424.5 L386 1455" stroke-width="4"/>
<path d="M372.5 1466.5 L343 1495" stroke-width="4"/>
<path d="M492 1426 Q525 1423.5 559 1426 Q571.5 1427 572.3 1440 Q574 1459 571.6 1478 Q570.5 1490.5 558 1491.3 Q525 1493.5 492 1491.3 Q480.2 1490.5 479.4 1478 Q477.6 1459 479.4 1440 Q480.2 1427 492 1426 Z" stroke-width="4.2" stroke-linejoin="round"/>
<path d="M515.3 1445.5 L540.5 1458.8 L515.5 1473.5 Z" stroke-width="3.4"/>
</g>
<clipPath id="fclip"><rect x="12" y="1200" width="400" height="340.8"/></clipPath>
<g id="face" clip-path="url(#fclip)"><g transform="translate(10 1265) scale(0.17432)" fill="none" stroke="#000" stroke-linecap="round" stroke-linejoin="round">
<path d="M760 85C725 87 677 90 640 100C603 110 572 122 540 145C508 168 474 202 450 235C426 268 407 304 395 340C383 376 382 413 378 450C374 487 372 522 368 560C364 598 355 643 352 680C349 717 351 754 352 780C353 806 351 812 356 835C361 858 366 887 380 918C394 949 417 991 440 1020C463 1049 490 1076 519 1094C548 1112 585 1124 612 1131C639 1138 658 1138 681 1136C704 1134 724 1131 751 1122C778 1113 813 1098 844 1080C875 1062 910 1036 937 1011C964 986 988 955 1006 927C1024 899 1037 875 1048 844C1059 813 1063 772 1070 740C1077 708 1081 680 1090 650C1099 620 1114 593 1122 560C1130 527 1138 485 1140 450C1142 415 1142 382 1135 350C1128 318 1117 289 1100 260C1083 231 1062 199 1035 175C1008 151 971 130 940 115C909 100 880 93 850 88C820 83 795 83 760 85Z" stroke-width="30"/>
<path d="M463 565C470 567 491 576 505 576C519 576 542 565 549 563" stroke-width="11"/>
<path d="M788 565C796 568 820 580 839 581C858 582 890 572 900 570" stroke-width="11"/>
<path d="M944 563C948 562 958 554 965 554C972 554 982 561 985 562" stroke-width="6"/>
<path d="M616 507C615 512 615 528 612 540C609 552 600 570 598 576" stroke-width="13"/>
<path d="M545 625C541 629 524 641 521 651C518 661 524 677 530 683C536 689 547 688 556 688C565 688 575 678 584 680C593 682 600 695 612 697C624 699 642 693 658 690C674 687 690 678 705 677C720 676 739 684 751 683C763 682 774 677 779 669C784 661 784 647 780 637C776 627 760 615 756 611" stroke-width="21"/>
<path d="M496 669C487 675 454 694 440 706C426 718 418 733 414 744C410 755 418 767 419 772" stroke-width="10"/>
<path d="M804 644C814 653 850 682 867 697C884 712 899 722 909 734C919 746 925 759 927 772C929 785 925 799 922 810C919 821 910 833 908 838" stroke-width="11"/>
<path d="M468 788C477 785 504 773 520 768C536 763 542 760 565 758C588 756 627 753 658 753C689 753 724 756 751 760C778 764 799 769 820 775C841 781 867 792 876 795" stroke-width="24"/>
<path d="M468 788C474 794 492 815 505 825C518 835 529 842 547 848C565 854 590 858 612 860C634 862 658 863 681 860C704 857 728 851 751 844C774 837 800 826 821 818C842 810 867 799 876 795" stroke-width="16"/>
<path d="M526 897C534 902 557 920 575 927C593 934 615 939 635 939C655 939 675 933 695 927C715 921 743 906 753 902" stroke-width="14"/>
<path d="M1135 590C1140 587 1155 575 1165 572C1175 569 1187 568 1195 574C1203 580 1212 596 1215 610C1218 624 1218 638 1215 660C1212 682 1206 717 1197 742C1188 767 1180 792 1160 811C1140 830 1092 846 1078 853" stroke-width="28"/>
<path d="M1160 630C1154 642 1133 678 1122 704C1111 730 1100 770 1095 783" stroke-width="15"/>
<path d="M1190 640C1184 651 1167 684 1155 705C1143 726 1126 755 1120 765" stroke-width="9"/>
<path d="M422 1011C422 1020 423 1042 424 1066C425 1090 430 1121 427 1154C424 1187 415 1231 408 1266C401 1301 388 1333 386 1364C384 1395 389 1426 397 1454C405 1482 424 1506 435 1529C446 1552 460 1580 465 1590" stroke-width="28"/>
<path d="M1073 845C1070 866 1062 937 1058 974C1054 1011 1050 1042 1048 1066C1046 1090 1050 1095 1046 1116C1042 1137 1039 1164 1027 1191C1015 1218 995 1247 974 1281C953 1315 921 1359 900 1394C879 1429 870 1458 847 1491C824 1524 776 1574 762 1590" stroke-width="28"/>
<path d="M1064 1110C1068 1116 1085 1130 1091 1146C1097 1162 1092 1190 1098 1206C1104 1222 1107 1230 1124 1244C1141 1258 1162 1269 1199 1289C1236 1309 1299 1338 1349 1364C1399 1390 1462 1421 1499 1446C1536 1471 1555 1490 1574 1514C1593 1538 1606 1579 1612 1592" stroke-width="31"/>
<path d="M1098 1229C1095 1248 1085 1311 1079 1341C1073 1371 1066 1398 1064 1409" stroke-width="16"/>
<path d="M1147 1289C1150 1302 1161 1330 1162 1364C1163 1398 1158 1455 1154 1491C1150 1527 1142 1565 1139 1580" stroke-width="18"/>
<path d="M866 1592C880 1572 930 1482 952 1472C974 1462 981 1514 997 1529C1013 1544 1030 1552 1049 1559C1068 1566 1100 1572 1110 1574" stroke-width="19"/>
<path d="M56 1304C78 1294 140 1264 187 1247C234 1230 304 1216 337 1202C370 1188 372 1175 385 1160C398 1145 409 1120 414 1112" stroke-width="21"/>
<path d="M332 1212C323 1227 297 1270 280 1300C263 1330 238 1378 229 1394" stroke-width="16"/>
<path d="M397 1154C391 1179 376 1254 360 1304C344 1354 321 1416 300 1454C279 1492 256 1515 232 1529C208 1543 167 1538 154 1540" stroke-width="21"/>
<path d="M326 1484C326 1494 324 1526 326 1544C328 1562 336 1584 338 1592" stroke-width="18"/>
<path d="M408 474C408 466 413 446 418 435C423 424 425 416 440 410C455 404 488 402 510 402C532 402 555 408 570 412C585 416 596 422 602 428C608 434 607 442 606 447C605 452 609 459 598 460C587 461 563 453 542 453C521 453 492 453 472 458C452 463 432 478 421 481C410 484 408 482 408 474Z" fill="#000" stroke-width="3"/>
<path d="M714 437C717 430 719 421 732 416C745 411 771 408 790 406C809 404 823 402 844 402C865 402 895 400 914 407C933 414 948 433 960 446C972 459 978 473 984 485C990 497 996 509 996 516C996 523 989 530 983 528C977 526 970 512 962 505C954 498 953 495 937 488C921 481 890 467 867 463C844 459 819 462 800 462C781 462 765 466 751 465C737 464 722 461 716 456C710 451 711 444 714 437Z" fill="#000" stroke-width="3"/>
<path d="M424 538C423 534 443 521 455 515C467 509 482 502 496 500C510 498 526 501 540 505C554 509 578 518 579 523C580 528 558 530 545 532C532 534 514 533 500 534C486 535 473 536 460 537C447 538 425 542 424 538Z" fill="#000" stroke-width="3"/>
<path d="M751 528C755 524 770 515 782 510C794 505 808 501 821 500C834 499 848 502 860 505C872 508 877 509 890 516C903 523 934 540 937 545C940 550 917 546 905 545C893 544 885 543 867 542C849 541 816 538 798 537C780 536 764 534 756 533C748 532 747 532 751 528Z" fill="#000" stroke-width="3"/>
<path d="M460 787C461 780 496 773 505 775C514 777 515 792 514 800C513 808 509 822 500 820C491 818 459 794 460 787Z" fill="#000" stroke-width="3"/>
<path d="M880 793C877 788 842 780 832 783C822 786 815 806 818 810C821 814 842 813 852 810C862 807 883 798 880 793Z" fill="#000" stroke-width="3"/>
<path d="M1062 452C1064 445 1077 474 1085 490C1093 506 1102 525 1108 545C1114 565 1121 594 1120 610C1119 626 1106 642 1100 640C1094 638 1089 618 1085 600C1081 582 1078 555 1074 530C1070 505 1060 459 1062 452Z" fill="#000" stroke-width="3"/>
</g></g>
</svg></body></html>
